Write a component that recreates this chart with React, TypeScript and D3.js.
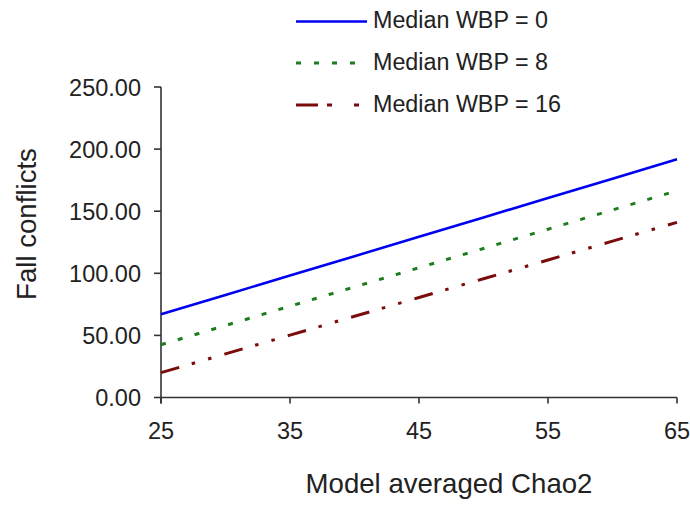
import React from "react";
import * as d3 from "d3";

const chao2 = [25, 30, 35, 40, 45, 50, 55, 60, 65];
const wbp0 = [67, 82.6, 98.2, 113.8, 129.4, 145, 160.6, 176.2, 191.8];
const wbp8 = [42.5, 58, 73.5, 89, 104.5, 120, 135.5, 151, 166.5];
const wbp16 = [20, 35.1, 50.2, 65.4, 80.5, 95.6, 110.7, 125.9, 141];
const xTicks = [25, 35, 45, 55, 65];
const yTicks = [0, 50, 100, 150, 200, 250];
const seriesNames = ["Median WBP = 0", "Median WBP = 8", "Median WBP = 16"];

const W = 690;
const H = 506;
const FONT = "'Liberation Sans', Arial, sans-serif";
const TEXT = "#222";
const AXIS = "#333";

export default function App() {
  const x = d3.scaleLinear().domain([25, 65]).range([161, 677]);
  const y = d3.scaleLinear().domain([0, 250]).range([397.5, 87]);
  const line = d3
    .line<[number, number]>()
    .x((d) => x(d[0]))
    .y((d) => y(d[1]));

  const series = [
    { name: seriesNames[0], values: wbp0, color: "#0000f0", dash: undefined as string | undefined, width: 2.6 },
    { name: seriesNames[1], values: wbp8, color: "#1d7d1d", dash: "5 12.5", width: 3 },
    { name: seriesNames[2], values: wbp16, color: "#7a0c0c", dash: "19 13 3.5 13.5 3.5 13.5", width: 3 },
  ];

  const legendY = [21.5, 63, 105];

  return (
    <svg
      width={W}
      height={H}
      style={{ position: "absolute", left: 0, top: 0, background: "#fff" }}
      fontFamily={FONT}
    >
      <rect x={0} y={0} width={W} height={H} fill="#fff" />
      {/* axes */}
      <line x1={x(25)} x2={x(25)} y1={y(250)} y2={y(0) + 6} stroke={AXIS} strokeWidth={1.6} />
      <line x1={x(25)} x2={x(65)} y1={y(0)} y2={y(0)} stroke={AXIS} strokeWidth={1.6} />
      {yTicks.map((t) => (
        <g key={"y" + t}>
          <line x1={x(25) - 7} x2={x(25)} y1={y(t)} y2={y(t)} stroke={AXIS} strokeWidth={1.6} />
          <text
            x={141}
            y={y(t) + 8.5}
            textAnchor="end"
            fontSize={23.5}
            fill={TEXT}
          >
            {t.toFixed(2)}
          </text>
        </g>
      ))}
      {xTicks.map((t) => (
        <g key={"x" + t}>
          <line x1={x(t)} x2={x(t)} y1={y(0)} y2={y(0) + 6} stroke={AXIS} strokeWidth={1.6} />
          <text x={x(t)} y={439} textAnchor="middle" fontSize={23.5} fill={TEXT}>
            {t}
          </text>
        </g>
      ))}
      {/* series */}
      {series.map((s) => (
        <path
          key={s.name}
          d={line(chao2.map((c, i) => [c, s.values[i]] as [number, number])) || ""}
          fill="none"
          stroke={s.color}
          strokeWidth={s.width}
          strokeDasharray={s.dash}
        />
      ))}
      {/* legend */}
      {series.map((s, i) => (
        <g key={"lg" + i}>
          <line
            x1={296}
            x2={367}
            y1={legendY[i]}
            y2={legendY[i]}
            stroke={s.color}
            strokeWidth={s.width}
            strokeDasharray={i === 1 ? "5 13" : i === 2 ? "22 9 5 22 5 20" : undefined}
          />
          <text x={373} y={legendY[i] + 6.8} fontSize={23.3} fill={TEXT}>
            {s.name}
          </text>
        </g>
      ))}
      {/* axis titles */}
      <text x={449} y={493} textAnchor="middle" fontSize={27.6} fill={TEXT}>
        Model averaged Chao2
      </text>
      <text
        transform={`translate(36,224) rotate(-90)`}
        textAnchor="middle"
        fontSize={27.6}
        fill={TEXT}
      >
        Fall conflicts
      </text>
    </svg>
  );
}
